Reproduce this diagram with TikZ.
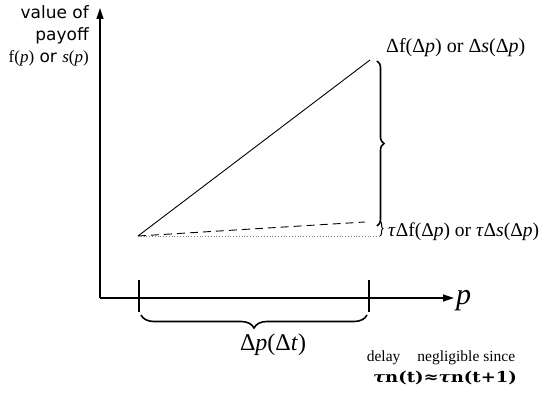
\documentclass[tikz,border=0pt]{standalone}
\usepackage{fontspec}
\setmainfont{Liberation Serif}
\setsansfont{DejaVu Sans}
\newfontfamily\wideserif{DejaVu Serif}
\usetikzlibrary{arrows.meta,decorations.pathreplacing,positioning}
\tikzset{
  axis/.style={-{Triangle[length=11pt,width=7pt]}, line width=1.2pt, black},
  payoff/.style={black, line width=0.9pt},
  delayed/.style={black, dash pattern=on 8pt off 5pt, line width=0.9pt},
  base/.style={gray, dotted, line width=0.8pt},
  tickmark/.style={black, line width=1.4pt},
  curly/.style={decorate, decoration={brace, amplitude=#1}, line width=1.6pt},
  note/.style={font=\sffamily\fontsize{17}{22}\selectfont, align=right, inner sep=0pt},
  mlabel/.style={font=\fontsize{20}{24}\selectfont, inner sep=0pt}
}

\begin{document}
\begin{tikzpicture}[x=1pt,y=1pt]
  \useasboundingbox (0,0) rectangle (542,394);

  \coordinate (O) at (100,96);
  \coordinate (ytip) at (100,386);
  \coordinate (xtip) at (454,96);
  \coordinate (A) at (138,158);
  \coordinate (B) at (370,334);
  \coordinate (C) at (365,172);
  \coordinate (D) at (380,158);

  % axes
  \draw[axis] (O) -- (ytip);
  \draw[axis] (O) -- (xtip);

  % interval on p axis
  \draw[tickmark] (139,114) -- (139,82);
  \draw[tickmark] (369,114) -- (369,82);

  % payoff change, delayed payoff change, base level
  \draw[payoff] (A) -- (B);
  \draw[delayed] (A) -- (C);
  \draw[base] (A) -- (D);

  % braces
  \draw[curly=7pt] (377,333) -- (377,168);
  \draw[curly=3pt, line width=1pt] (380,173) -- (380,158);
  \draw[curly=13pt] (367,79) -- (141,79);

  % labels
  \node[note, anchor=north east] (ylab) at (89,389)
    {value of\\payoff\\{\rmfamily f(\textit{p})} or {\rmfamily\textit{s}(\textit{p})}};
  \node[mlabel, anchor=west] (df) at (386,346)
    {Δf(Δ\textit{p}) or Δ\textit{s}(Δ\textit{p})};
  \node[mlabel, font=\fontsize{19.5}{24}\selectfont, anchor=west] (tdf) at (388,162)
    {\textit{τ}Δf(Δ\textit{p}) or \textit{τ}Δ\textit{s}(Δ\textit{p})};
  \node[inner sep=0pt, anchor=base west, font=\fontsize{30}{34}\selectfont\itshape]
    (plab) at (456,89) {p};
  \node[mlabel, font=\fontsize{24}{28}\selectfont] (dp) at (273,49)
    {Δ\textit{p}(Δ\textit{t})};
  \node[inner sep=0pt, font=\fontsize{15.5}{18}\selectfont] (delay) at (441,36)
    {delay\hspace{17pt}negligible since};
  \node[inner sep=0pt, font=\wideserif\fontsize{15}{18}\selectfont\bfseries] (approx) at (445,16)
    {\scalebox{1.2}[1]{\textit{τ}n(t)≈\textit{τ}n(t+1)}};
\end{tikzpicture}
\end{document}
